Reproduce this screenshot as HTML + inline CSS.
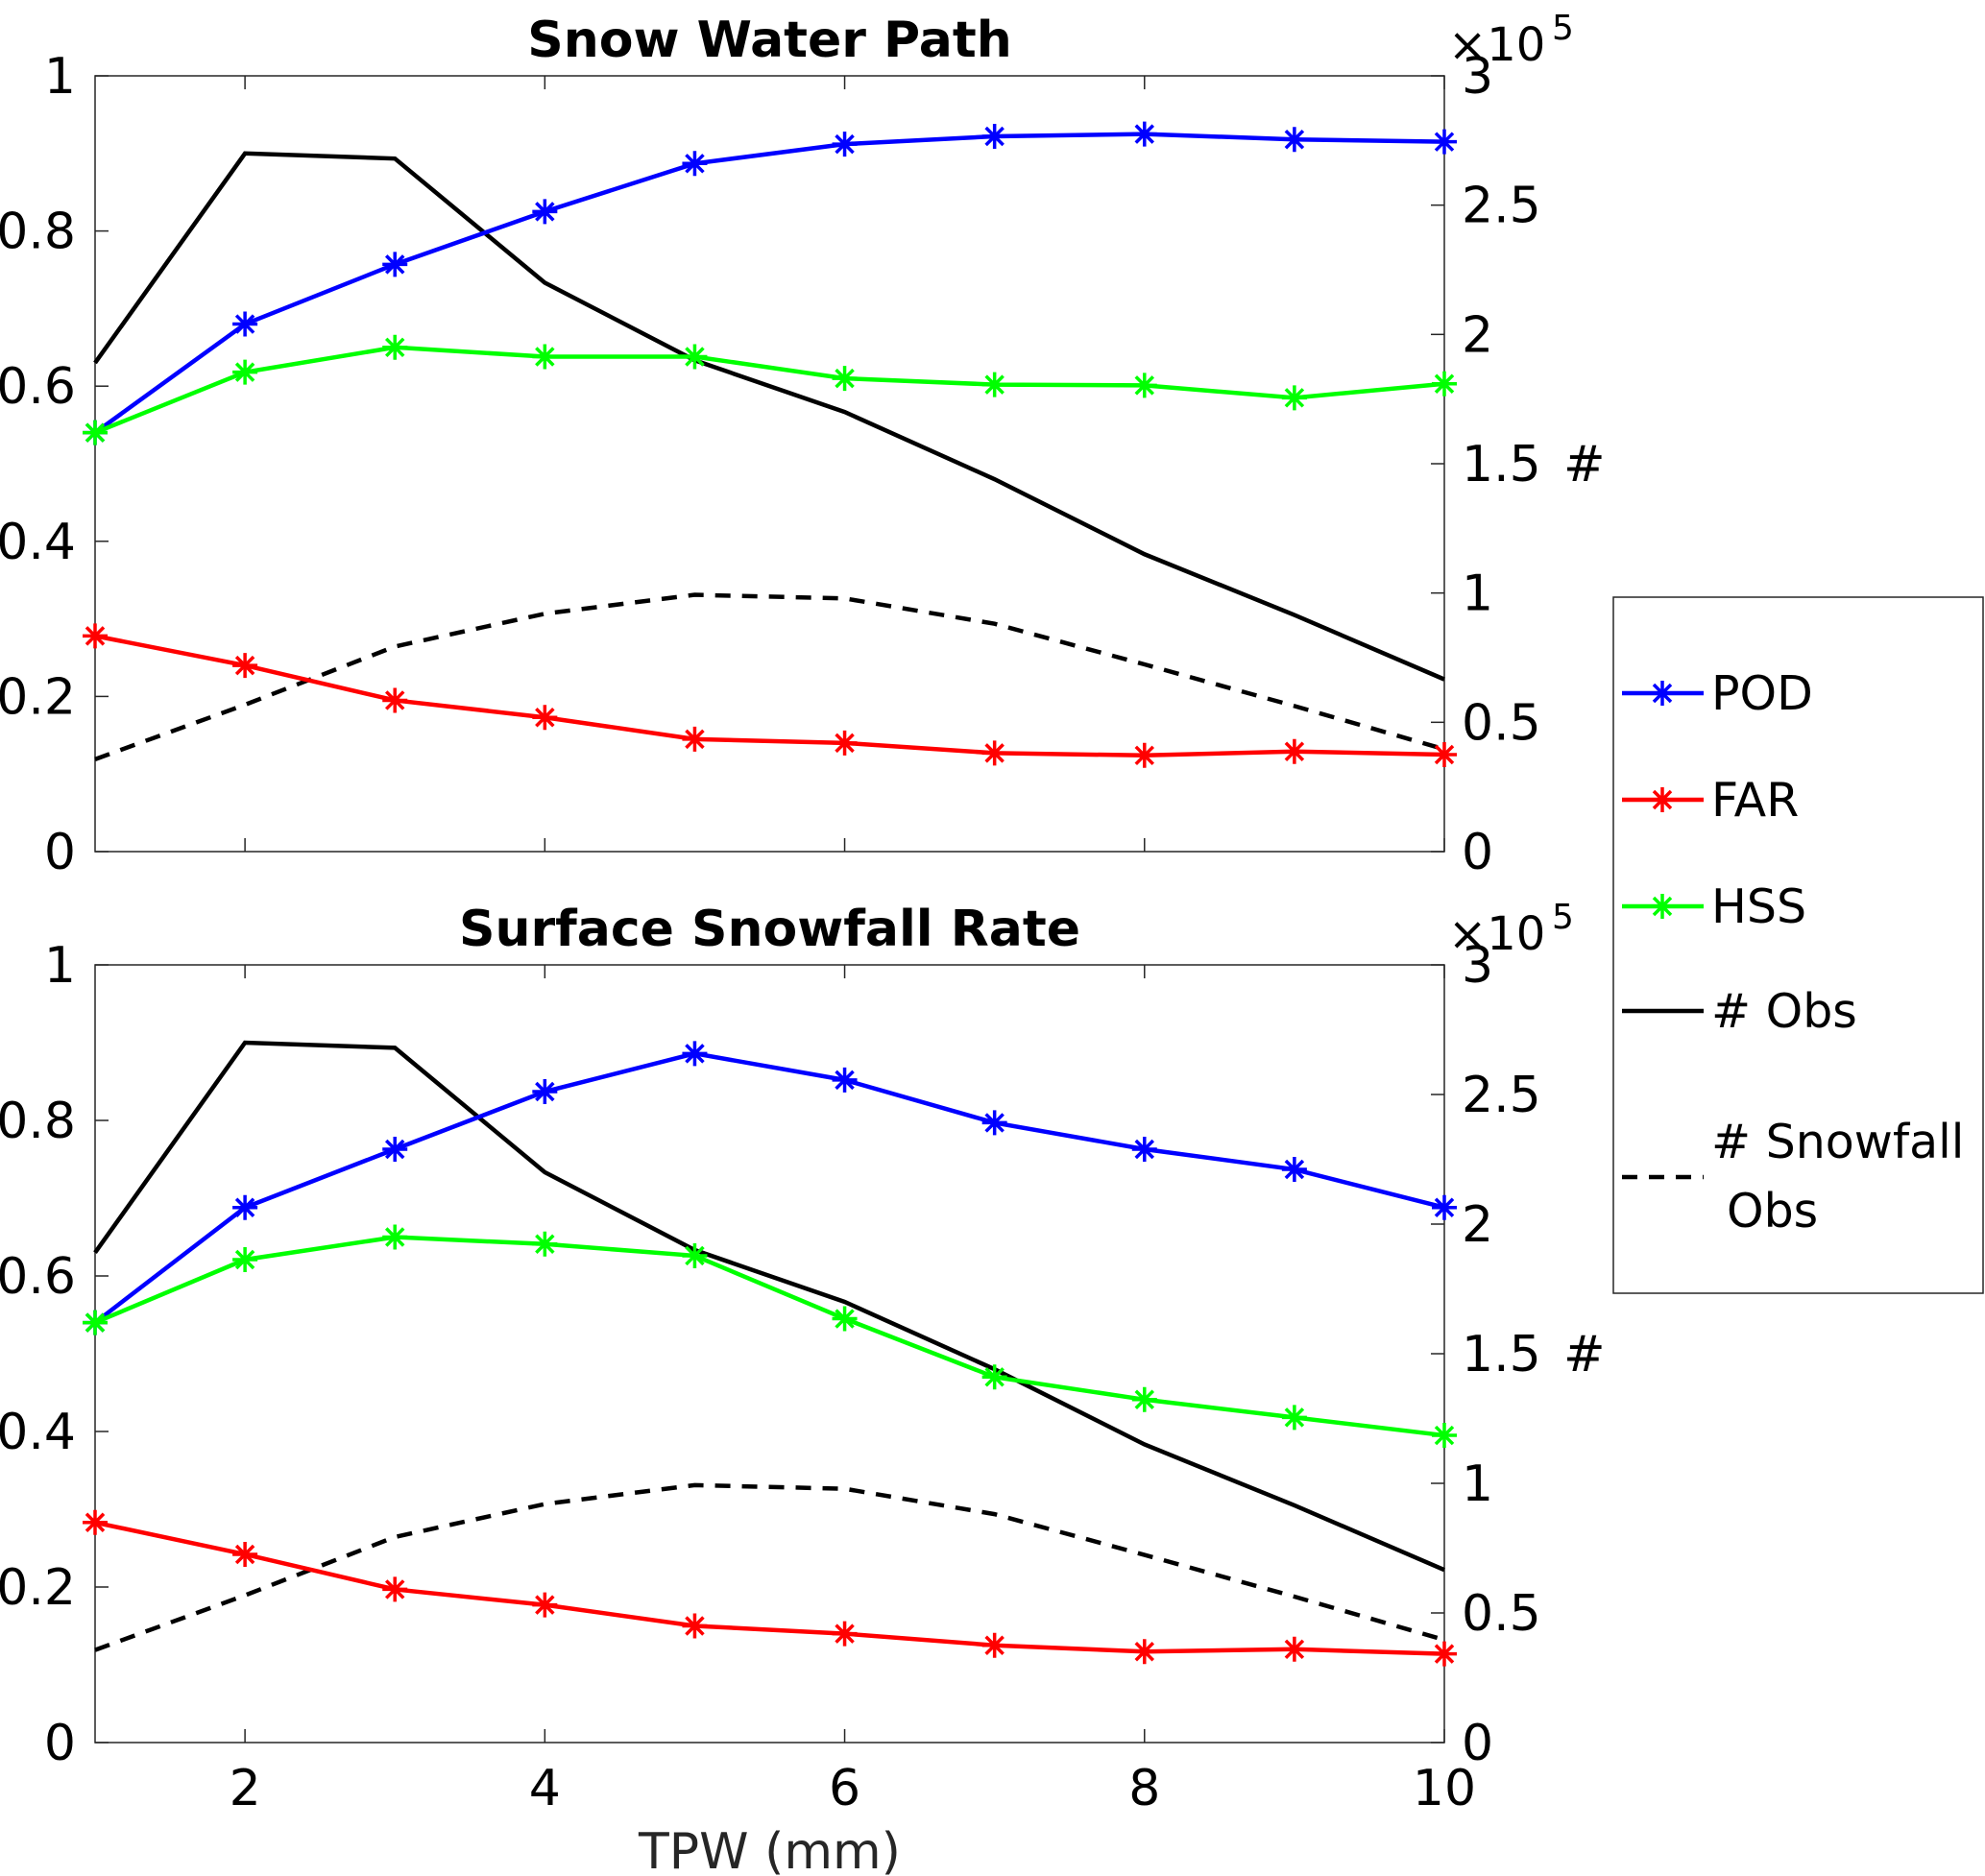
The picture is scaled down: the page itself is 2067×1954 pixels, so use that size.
<!DOCTYPE html>
<html><head><meta charset="utf-8"><style>body{margin:0;background:#fff}svg{display:block;font-family:"DejaVu Sans","Liberation Sans",sans-serif}</style></head>
<body>
<svg id="c" width="2067" height="1954" viewBox="0 0 2067 1954"></svg>
<script>
const xs=[1,2,3,4,5,6,7,8,9,10];
const xTicks=[2,4,6,8,10];
const yTicks=[0,0.2,0.4,0.6,0.8,1];
const yTickLabels=["0","0.2","0.4","0.6","0.8","1"];
const rTicks=[0,0.5,1,1.5,2,2.5,3];
const rTickLabels=["0","0.5","1","1.5","2","2.5","3"];
const obs=[1.89,2.70,2.68,2.20,1.90,1.70,1.44,1.15,0.915,0.666];
const snowObs=[0.357,0.568,0.793,0.92,0.993,0.979,0.881,0.724,0.563,0.396];
const podSWP=[0.54,0.68,0.757,0.825,0.887,0.912,0.922,0.925,0.918,0.915];
const farSWP=[0.278,0.24,0.195,0.173,0.145,0.14,0.127,0.124,0.129,0.125];
const hssSWP=[0.54,0.618,0.65,0.638,0.638,0.61,0.602,0.601,0.585,0.603];
const podSSR=[0.54,0.688,0.763,0.837,0.886,0.852,0.797,0.763,0.737,0.688];
const farSSR=[0.283,0.242,0.197,0.177,0.15,0.14,0.125,0.117,0.12,0.114];
const hssSSR=[0.54,0.621,0.65,0.641,0.626,0.545,0.47,0.441,0.418,0.395];

const svg=document.getElementById('c');
const NS='http://www.w3.org/2000/svg';
function el(t,a,p){const e=document.createElementNS(NS,t);for(const k in a)e.setAttribute(k,a[k]);(p||svg).appendChild(e);return e;}
function txt(s,a,p){const e=el('text',a,p);e.textContent=s;return e;}
const L=99,R=1504;
const FS=52, LFS=49;
const X=v=>L+(v-1)/9*(R-L);
function star(g,x,y,c){const r=13,d=9;
  el('path',{d:`M${x-r},${y}H${x+r}M${x},${y-r}V${y+r}M${x-d},${y-d}L${x+d},${y+d}M${x-d},${y+d}L${x+d},${y-d}`,stroke:c,'stroke-width':3.5,fill:'none'},g);}
function panel(name,title,top,bot,pod,far,hss){
  const g=el('g',{});
  
  
  const Y=v=>bot-v*(bot-top);
  const Yr=v=>bot-v/3*(bot-top);
  el('rect',{x:L,y:top,width:R-L,height:bot-top,fill:'none',stroke:'#262626','stroke-width':1.5},g);
  xTicks.forEach(t=>{el('line',{x1:X(t),x2:X(t),y1:bot,y2:bot-14,stroke:'#262626','stroke-width':1.5},g);el('line',{x1:X(t),x2:X(t),y1:top,y2:top+14,stroke:'#262626','stroke-width':1.5},g);});
  yTicks.forEach((t,i)=>{el('line',{x1:L,x2:L+14,y1:Y(t),y2:Y(t),stroke:'#262626','stroke-width':1.5},g);
    const e=txt(yTickLabels[i],{x:L-20,y:Y(t)+18,'font-size':FS,'text-anchor':'end',fill:'#000'},g);
    });
  rTicks.forEach((t,i)=>{el('line',{x1:R,x2:R-14,y1:Yr(t),y2:Yr(t),stroke:'#262626','stroke-width':1.5},g);
    const e=txt(rTickLabels[i],{x:R+18,y:Yr(t)+18,'font-size':FS,fill:'#000'},g);
    });
  const ex=txt('×10',{x:R+4,y:top-16,'font-size':48,fill:'#000'},g);
  
  txt('5',{x:R+112,y:top-38,'font-size':36,fill:'#000'},g);
  const hs=txt('#',{x:1628,y:(top+bot)/2+18,'font-size':FS,fill:'#000'},g);
  
  const tt=txt(title,{x:(L+R)/2,y:top-20,'font-size':52,'font-weight':'bold','text-anchor':'middle',fill:'#000'},g);
  
  const line=(arr,f,c,dash)=>{const p=el('polyline',{points:arr.map((v,i)=>X(xs[i])+','+f(v)).join(' '),fill:'none',stroke:c,'stroke-width':4.5},g);if(dash)p.setAttribute('stroke-dasharray','16,12');return p;};
  const o=line(obs,Yr,'#000');
  const s=line(snowObs,Yr,'#000',true);
  [[pod,'#0000ff','pod'],[far,'#ff0000','far'],[hss,'#00ff00','hss']].forEach(([a,c,n])=>{
    const p=line(a,Y,c);
    a.forEach((v,i)=>star(g,X(xs[i]),Y(v),c));});
}
panel('swp-panel','Snow Water Path',79,887,podSWP,farSWP,hssSWP);
panel('ssr-panel','Surface Snowfall Rate',1005,1815,podSSR,farSSR,hssSSR);
xTicks.forEach(t=>{const e=txt(String(t),{x:X(t),y:1880,'font-size':FS,'text-anchor':'middle',fill:'#000'});
  });
const xl=txt('TPW (mm)',{x:(L+R)/2,y:1946,'font-size':FS,'text-anchor':'middle',fill:'#262626'});

const lg=el('g',{});


el('rect',{x:1680,y:622,width:385,height:725,fill:'#fff',stroke:'#262626','stroke-width':1.5},lg);
[['POD','#0000ff',722,1],['FAR','#ff0000',833,1],['HSS','#00ff00',944,1],['# Obs','#000',1053,0]].forEach(([n,c,y,m])=>{
  el('line',{x1:1689,x2:1774,y1:y,y2:y,stroke:c,'stroke-width':4.5},lg);
  if(m)star(lg,1731,y,c);
  const e=txt(n,{x:1782,y:y+17,'font-size':LFS,fill:'#000'},lg);
  });
el('line',{x1:1689,x2:1774,y1:1226,y2:1226,stroke:'#000','stroke-width':4.5,'stroke-dasharray':'16,12'},lg);
const e1=txt('# Snowfall',{x:1782,y:1206,'font-size':LFS,fill:'#000'},lg);

txt('Obs',{x:1798,y:1278,'font-size':LFS,fill:'#000'},lg);
</script>
</body></html>
